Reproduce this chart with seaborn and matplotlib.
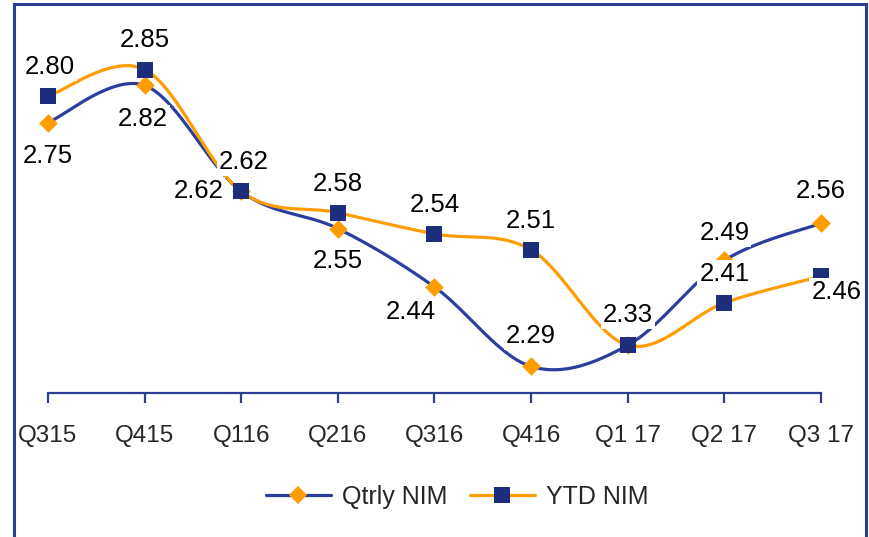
import numpy as np
import pandas as pd
import matplotlib
matplotlib.use("Agg")
import matplotlib.pyplot as plt
from matplotlib.lines import Line2D
from matplotlib.patches import Rectangle
import seaborn as sns

quarters = ["Q315", "Q415", "Q116", "Q216", "Q316", "Q416", "Q1 17", "Q2 17", "Q3 17"]
qtrly_nim = [2.75, 2.82, 2.62, 2.55, 2.44, 2.29, 2.33, 2.49, 2.56]
ytd_nim = [2.80, 2.85, 2.62, 2.58, 2.54, 2.51, 2.33, 2.41, 2.46]

# label offsets (points) relative to each data point
qtrly_offsets = [(0, -24), (-1, -24), (-31, 0), (0, -23), (-17, -18), (0, 22), (0, 22), (0, 20), (0, 23)]
ytd_offsets = [(1, 21), (0, 21), (2, 21), (0, 21), (0, 21), (0, 21), (0, 22), (0, 21), (11, -11)]

BLUE = "#2B3E9E"
NAVY = "#1C2E7C"
ORANGE = "#FF9C00"
FRAME = "#2B3D94"


def smooth(xs, ys, n=40):
    """Excel-like smoothed (Bezier/Catmull-Rom) curve through the points."""
    P = np.column_stack([xs, ys]).astype(float)
    Pe = np.vstack([P[0], P, P[-1]])
    out = []
    t = np.linspace(0, 1, n)[:, None]
    for i in range(len(P) - 1):
        p0 = Pe[i + 1]
        p3 = Pe[i + 2]
        c1 = p0 + (Pe[i + 2] - Pe[i]) / 6.0
        c2 = p3 - (Pe[i + 3] - Pe[i + 1]) / 6.0
        seg = ((1 - t) ** 3) * p0 + 3 * ((1 - t) ** 2) * t * c1 + 3 * (1 - t) * t ** 2 * c2 + t ** 3 * p3
        out.append(seg if i == 0 else seg[1:])
    s = np.vstack(out)
    return s[:, 0], s[:, 1]


sns.set_style("white")
plt.rcParams["font.family"] = ["Liberation Sans", "DejaVu Sans"]

fig = plt.figure(figsize=(8.7, 5.37), dpi=100)
ax = fig.add_axes([48 / 870, (537 - 393) / 537, (821 - 48) / 870, (393 - 16.5) / 537])

x = np.arange(len(quarters))
df = pd.DataFrame({"x": x, "Qtrly NIM": qtrly_nim, "YTD NIM": ytd_nim})

# Qtrly line + markers
sx, sy = smooth(df["x"], df["Qtrly NIM"])
ax.plot(sx, sy, color=BLUE, lw=2.3, zorder=2, solid_capstyle="round", clip_on=False)
sns.scatterplot(data=df, x="x", y="Qtrly NIM", marker="D", s=9.5 ** 2, color=ORANGE,
                linewidth=0, ax=ax, zorder=2.1, legend=False, clip_on=False)

# YTD line + markers
sx, sy = smooth(df["x"], df["YTD NIM"])
ax.plot(sx, sy, color=ORANGE, lw=2.3, zorder=2.2, solid_capstyle="round", clip_on=False)
sns.scatterplot(data=df, x="x", y="YTD NIM", marker="s", s=11 ** 2, color=NAVY,
                linewidth=0, ax=ax, zorder=2.3, legend=False, clip_on=False)

bbox = dict(boxstyle="square,pad=0.08", fc="white", ec="none")
for xi, v, off in zip(x, qtrly_nim, qtrly_offsets):
    ax.annotate(f"{v:.2f}", (xi, v), xytext=off, textcoords="offset points",
                ha="center", va="center", fontsize=18.5, color="black", bbox=bbox,
                zorder=5, annotation_clip=False)
for xi, v, off in zip(x, ytd_nim, ytd_offsets):
    ax.annotate(f"{v:.2f}", (xi, v), xytext=off, textcoords="offset points",
                ha="center", va="center", fontsize=18.5, color="black", bbox=bbox,
                zorder=5, annotation_clip=False)

ax.set_xlim(0, len(quarters) - 1)
ax.set_ylim(2.24, 2.95)
ax.set_xticks(x)
ax.set_xticklabels(quarters, fontsize=17.5)
ax.set_yticks([])
ax.set_xlabel("")
ax.set_ylabel("")
for s in ["top", "left", "right"]:
    ax.spines[s].set_visible(False)
ax.spines["bottom"].set_color(FRAME)
ax.spines["bottom"].set_linewidth(1.6)
ax.tick_params(axis="x", direction="out", length=7, width=1.6, color=FRAME, pad=16,
               bottom=True)
ax.patch.set_alpha(0)

handles = [
    Line2D([], [], color=BLUE, lw=2.3, marker="D", markersize=9.5, markerfacecolor=ORANGE,
           markeredgewidth=0),
    Line2D([], [], color=ORANGE, lw=2.3, marker="s", markersize=11, markerfacecolor=NAVY,
           markeredgewidth=0),
]
fig.legend(handles, ["Qtrly NIM", "YTD NIM"], loc="center",
           bbox_to_anchor=(457 / 870, 1 - 497 / 537), ncol=2, frameon=False,
           fontsize=18, handlelength=2.6, handletextpad=0.45, columnspacing=0.9)

# chart frame
fig.patches.append(Rectangle((14 / 870, -0.05), (866 - 14) / 870, 1.05 - 4 / 537,
                             transform=fig.transFigure, fill=False, ec=FRAME, lw=2.2,
                             zorder=0))

fig.savefig("out.png", dpi=100)
